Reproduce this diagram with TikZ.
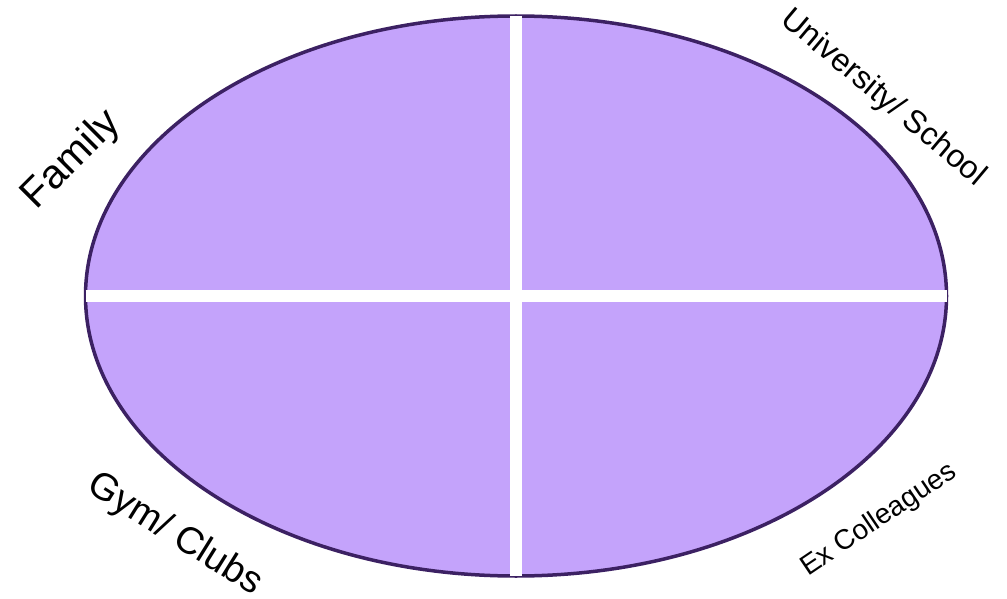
\documentclass[tikz,border=0pt]{standalone}
\usepackage{fontspec}
\setmainfont{Liberation Sans}
\usetikzlibrary{shapes.geometric}
\definecolor{lav}{HTML}{C4A3FB}
\definecolor{rim}{HTML}{3C2163}
\begin{document}
\begin{tikzpicture}[x=1pt,y=-1pt,
  oval/.style={ellipse, draw=rim, fill=lav, line width=3.5pt, inner sep=0pt, outer sep=0pt, minimum width=861pt, minimum height=560pt},
  divider/.style={draw=white, line width=12pt},
  lbl/.style={inner sep=0pt, text=black}]
\useasboundingbox (0,0) rectangle (1007,599);
\node[oval] (o) at (516,296) {};
\draw[divider] (o.north) -- (o.south);
\draw[divider] (o.west) -- (o.east);
\node[lbl, rotate=45, font=\fontsize{41}{45}\selectfont] (fam) at (72,160) {Family};
\node[lbl, rotate=-40, font=\fontsize{32}{36}\selectfont] (uni) at (883,98) {University/ School};
\node[lbl, rotate=-32, font=\fontsize{38}{42}\selectfont] (gym) at (175,535) {Gym/ Clubs};
\node[lbl, rotate=34, font=\fontsize{28}{32}\selectfont] (exc) at (879,520) {Ex Colleagues};
\end{tikzpicture}
\end{document}
